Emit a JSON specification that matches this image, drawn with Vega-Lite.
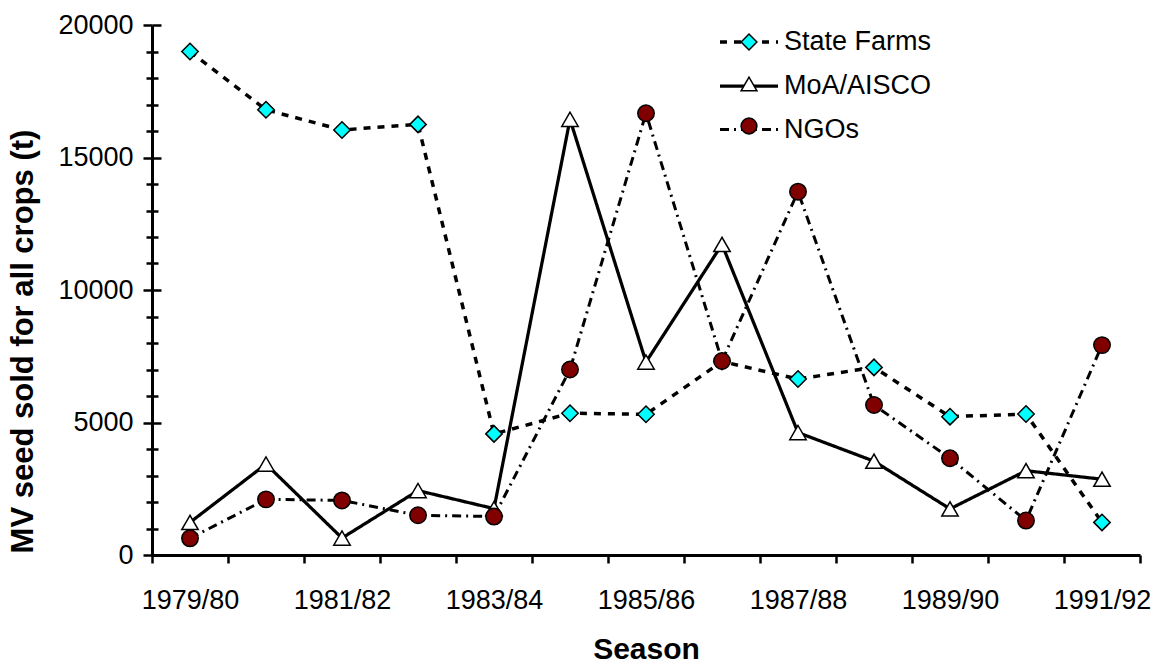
{
  "$schema": "https://vega.github.io/schema/vega-lite/v6.json",
  "width": 988,
  "height": 530,
  "autosize": {"type": "none"},
  "padding": {"left": 152, "top": 25, "right": 27, "bottom": 109},
  "background": "white",
  "config": {
    "view": {"stroke": null},
    "font": "Liberation Sans",
    "axis": {"labelFont": "Liberation Sans", "titleFont": "Liberation Sans", "labelColor": "black", "titleColor": "black", "grid": false}
  },
  "data": {
    "values": [
      {"season": "1979/80", "series": "State Farms", "value": 19000},
      {"season": "1980/81", "series": "State Farms", "value": 16800},
      {"season": "1981/82", "series": "State Farms", "value": 16040},
      {"season": "1982/83", "series": "State Farms", "value": 16250},
      {"season": "1983/84", "series": "State Farms", "value": 4570},
      {"season": "1984/85", "series": "State Farms", "value": 5350},
      {"season": "1985/86", "series": "State Farms", "value": 5310},
      {"season": "1986/87", "series": "State Farms", "value": 7300},
      {"season": "1987/88", "series": "State Farms", "value": 6640},
      {"season": "1988/89", "series": "State Farms", "value": 7080},
      {"season": "1989/90", "series": "State Farms", "value": 5220},
      {"season": "1990/91", "series": "State Farms", "value": 5320},
      {"season": "1991/92", "series": "State Farms", "value": 1230},
      {"season": "1979/80", "series": "MoA/AISCO", "value": 1230},
      {"season": "1980/81", "series": "MoA/AISCO", "value": 3430},
      {"season": "1981/82", "series": "MoA/AISCO", "value": 640},
      {"season": "1982/83", "series": "MoA/AISCO", "value": 2430},
      {"season": "1983/84", "series": "MoA/AISCO", "value": 1750},
      {"season": "1984/85", "series": "MoA/AISCO", "value": 16440},
      {"season": "1985/86", "series": "MoA/AISCO", "value": 7280},
      {"season": "1986/87", "series": "MoA/AISCO", "value": 11720},
      {"season": "1987/88", "series": "MoA/AISCO", "value": 4620},
      {"season": "1988/89", "series": "MoA/AISCO", "value": 3540},
      {"season": "1989/90", "series": "MoA/AISCO", "value": 1740},
      {"season": "1990/91", "series": "MoA/AISCO", "value": 3180},
      {"season": "1991/92", "series": "MoA/AISCO", "value": 2860},
      {"season": "1979/80", "series": "NGOs", "value": 630},
      {"season": "1980/81", "series": "NGOs", "value": 2100},
      {"season": "1981/82", "series": "NGOs", "value": 2060},
      {"season": "1982/83", "series": "NGOs", "value": 1500},
      {"season": "1983/84", "series": "NGOs", "value": 1450},
      {"season": "1984/85", "series": "NGOs", "value": 7000},
      {"season": "1985/86", "series": "NGOs", "value": 16670},
      {"season": "1986/87", "series": "NGOs", "value": 7320},
      {"season": "1987/88", "series": "NGOs", "value": 13710},
      {"season": "1988/89", "series": "NGOs", "value": 5660},
      {"season": "1989/90", "series": "NGOs", "value": 3650},
      {"season": "1990/91", "series": "NGOs", "value": 1300},
      {"season": "1991/92", "series": "NGOs", "value": 7920}
    ]
  },
  "layer": [
    {
      "mark": {"type": "line", "color": "black"},
      "encoding": {
        "x": {
          "field": "season", "type": "ordinal",
          "scale": {"type": "band", "paddingInner": 0, "paddingOuter": 0},
          "axis": {
            "title": "Season", "titleFontSize": 30, "titleFontWeight": "bold", "titlePadding": 21,
            "tickBand": "extent", "tickSize": 8, "tickWidth": 2.5, "tickColor": "black",
            "domainWidth": 3, "domainColor": "black",
            "labelAngle": 0, "labelFontSize": 27, "labelPadding": 24, "labelOverlap": false,
            "labelExpr": "toNumber(substring(datum.value, 0, 4)) % 2 == 1 ? datum.value : ''"
          }
        },
        "y": {
          "field": "value", "type": "quantitative",
          "scale": {"domain": [0, 20000], "nice": false},
          "axis": {
            "title": "MV seed sold for all crops (t)", "titleFontSize": 31, "titleFontWeight": "bold", "titlePadding": 18, "titleY": 316,
            "values": [0, 1000, 2000, 3000, 4000, 5000, 6000, 7000, 8000, 9000, 10000, 11000, 12000, 13000, 14000, 15000, 16000, 17000, 18000, 19000, 20000],
            "labelExpr": "datum.value % 5000 == 0 ? format(datum.value, 'd') : ''",
            "tickSize": {"condition": {"test": "datum.value % 5000 == 0", "value": 9}, "value": 6},
            "tickWidth": 2.5, "tickColor": "black",
            "domainWidth": 3, "domainColor": "black",
            "labelFontSize": 27, "labelPadding": 10
          }
        },
        "strokeDash": {
          "field": "series", "type": "nominal",
          "scale": {"domain": ["State Farms", "MoA/AISCO", "NGOs"], "range": [[7, 7], [1, 0], [9, 5, 2, 5]]},
          "legend": {
            "orient": "none", "legendX": 566, "legendY": -14, "title": null,
            "symbolType": "stroke", "symbolSize": 3364, "symbolStrokeColor": "black",
            "labelFontSize": 27, "labelFont": "Liberation Sans", "labelColor": "black", "labelOffset": 4,
            "rowPadding": -1, "padding": 0
          }
        },
        "strokeWidth": {
          "field": "series", "type": "nominal",
          "scale": {"domain": ["State Farms", "MoA/AISCO", "NGOs"], "range": [3.5, 3, 1.2]},
          "legend": {
            "orient": "none", "legendX": 566, "legendY": -14, "title": null,
            "symbolType": "stroke", "symbolSize": 3364, "symbolStrokeColor": "black",
            "labelFontSize": 27, "labelFont": "Liberation Sans", "labelColor": "black", "labelOffset": 4,
            "rowPadding": -1, "padding": 0
          }
        }
      }
    },
    {
      "mark": {"type": "point", "filled": false, "stroke": "black", "strokeWidth": 1.5, "size": 270, "opacity": 1, "fillOpacity": 1},
      "encoding": {
        "x": {
          "field": "season", "type": "ordinal",
          "axis": {
            "title": "Season", "titleFontSize": 30, "titleFontWeight": "bold", "titlePadding": 21,
            "tickBand": "extent", "tickSize": 8, "tickWidth": 2.5, "tickColor": "black",
            "domainWidth": 3, "domainColor": "black",
            "labelAngle": 0, "labelFontSize": 27, "labelPadding": 24, "labelOverlap": false,
            "labelExpr": "toNumber(substring(datum.value, 0, 4)) % 2 == 1 ? datum.value : ''"
          }
        },
        "y": {
          "field": "value", "type": "quantitative",
          "axis": {
            "orient": "left", "title": null, "labels": false, "domain": false,
            "values": [0, 1000, 2000, 3000, 4000, 5000, 6000, 7000, 8000, 9000, 10000, 11000, 12000, 13000, 14000, 15000, 16000, 17000, 18000, 19000, 20000],
            "tickSize": {"condition": {"test": "datum.value % 5000 == 0", "value": -9}, "value": -6},
            "tickWidth": 2.5, "tickColor": "black"
          }
        },
        "shape": {
          "field": "series", "type": "nominal",
          "scale": {"range": ["triangle-up", "circle", "diamond"]},
          "legend": {
            "orient": "none", "legendX": 588, "legendY": 8, "title": null,
            "values": ["State Farms", "MoA/AISCO", "NGOs"],
            "symbolSize": 250, "symbolStrokeColor": "black", "symbolStrokeWidth": 1.5, "symbolFillColor": "white",
            "labelExpr": "''", "labelOffset": 0, "rowPadding": 21, "padding": 0
          }
        },
        "fill": {
          "field": "series", "type": "nominal",
          "scale": {"range": ["white", "#800000", "#00ffff"]},
          "legend": {
            "orient": "none", "legendX": 588, "legendY": 8, "title": null,
            "values": ["State Farms", "MoA/AISCO", "NGOs"],
            "symbolSize": 250, "symbolStrokeColor": "black", "symbolStrokeWidth": 1.5,
            "labelExpr": "''", "labelOffset": 0, "rowPadding": 21, "padding": 0
          }
        }
      }
    }
  ],
  "resolve": {"axis": {"y": "independent"}}
}
